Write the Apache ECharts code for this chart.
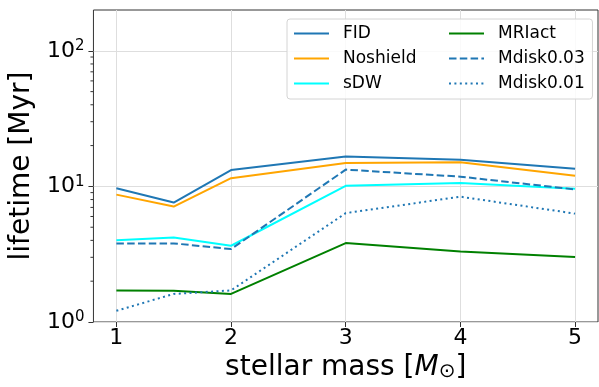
<!DOCTYPE html>
<html>
<head>
<meta charset="utf-8">
<script src="https://cdn.jsdelivr.net/npm/echarts@6/dist/echarts.min.js"></script>
<style>
  html, body { margin: 0; padding: 0; background: #fff; }
  #chart { width: 599px; height: 387px; }
</style>
</head>
<body>
<div id="chart"></div>
<script>
// Disk lifetime versus stellar mass for each model run
const masses   = [1, 1.5, 2, 3, 4, 5];
const fid      = [9.7, 7.6, 13.2, 16.6, 15.7, 13.5];
const noshield = [8.7, 7.1, 11.5, 14.9, 15.1, 12.0];
const sdw      = [4.0, 4.2, 3.65, 10.1, 10.6, 9.6];
const mriact   = [1.71, 1.70, 1.61, 3.82, 3.31, 3.02];
const mdisk003 = [3.8, 3.8, 3.45, 13.3, 11.8, 9.5];
const mdisk001 = [1.21, 1.61, 1.71, 6.35, 8.4, 6.3];

const xTicks = [1, 2, 3, 4, 5];
const yMajorTicks = [1, 10, 100];
const yMinorTicks = [2, 3, 4, 5, 6, 7, 8, 9, 20, 30, 40, 50, 60, 70, 80, 90];

const X_MIN = 0.8, X_MAX = 5.2;
const Y_MIN = 1, Y_MAX = 200;

const FONT = 'DejaVu Sans';
const SPINE = '#333333';
const GRID = '#dedede';

const pair = (ys) => masses.map((m, i) => [m, ys[i]]);

function lineSeries(name, ys, color, type) {
  return {
    name: name,
    type: 'line',
    data: pair(ys),
    symbol: 'none',
    showSymbol: false,
    lineStyle: { color: color, width: 2, type: type || 'solid', cap: 'butt' },
    itemStyle: { color: color },
    emphasis: { disabled: true },
    animation: false
  };
}

const chart = echarts.init(document.getElementById('chart'));

const legendText = { fontSize: 17, color: '#000', fontFamily: FONT, padding: [0, 0, 0, 9] };
// legend shows only the line sample, no marker
const legendItem = { color: 'transparent', borderColor: 'transparent', borderWidth: 0, opacity: 0 };

chart.setOption({
  backgroundColor: '#fff',
  animation: false,
  grid: {
    left: 91, top: 10, width: 507, height: 316,
    show: true, borderColor: SPINE, borderWidth: 1, backgroundColor: 'transparent'
  },
  legend: [
    {
      data: ['FID', 'Noshield', 'sDW'],
      orient: 'vertical',
      left: 287, top: 19,
      padding: [6, 176, 7, 6],
      itemWidth: 35, itemHeight: 14, itemGap: 8,
      backgroundColor: 'rgba(255,255,255,0.85)',
      borderColor: '#d4d4d4', borderWidth: 1, borderRadius: 3,
      selectedMode: false,
      itemStyle: legendItem,
      textStyle: legendText,
      z: 4
    },
    {
      data: ['MRIact', 'Mdisk0.03', 'Mdisk0.01'],
      orient: 'vertical',
      left: 448, top: 19,
      padding: [6, 0, 0, 0],
      itemWidth: 35, itemHeight: 14, itemGap: 8,
      selectedMode: false,
      itemStyle: legendItem,
      textStyle: legendText,
      z: 5
    }
  ],
  xAxis: {
    type: 'value',
    min: X_MIN, max: X_MAX,
    name: '{n|stellar mass [}{i|M}{s|⊙}{n|]}',
    nameLocation: 'middle',
    nameGap: 32,
    nameTextStyle: {
      rich: {
        n: { fontSize: 28, lineHeight: 28, fontFamily: FONT, color: '#000', verticalAlign: 'bottom' },
        i: { fontSize: 28, lineHeight: 28, fontFamily: FONT, fontStyle: 'italic', color: '#000', verticalAlign: 'bottom' },
        s: { fontSize: 20, lineHeight: 20, fontFamily: FONT, color: '#000', verticalAlign: 'bottom' }
      }
    },
    axisLine: { show: false },
    axisTick: { show: true, length: 5, customValues: xTicks, lineStyle: { color: SPINE, width: 1 } },
    axisLabel: {
      customValues: xTicks,
      margin: 5,
      fontSize: 22, fontFamily: FONT, color: '#000',
      formatter: (v) => String(v)
    },
    splitLine: { show: true, lineStyle: { color: GRID, width: 1 } }
  },
  yAxis: {
    type: 'log',
    logBase: 10,
    min: Y_MIN, max: Y_MAX,
    name: 'lifetime [Myr]',
    nameLocation: 'middle',
    nameRotate: 90,
    nameGap: 56,
    nameTextStyle: { fontSize: 28, fontFamily: FONT, color: '#000' },
    axisLine: { show: false },
    axisTick: { show: true, length: 5, customValues: yMajorTicks, lineStyle: { color: SPINE, width: 1 } },
    axisLabel: {
      customValues: yMajorTicks,
      margin: 9,
      formatter: (v) => {
        const e = Math.round(Math.log10(v));
        if (Math.abs(Math.pow(10, e) - v) > 1e-6) return '';
        return '{b|10}{s|' + e + '}';
      },
      rich: {
        b: { fontSize: 22, lineHeight: 22, fontFamily: FONT, color: '#000', verticalAlign: 'middle' },
        s: { fontSize: 15, lineHeight: 15, fontFamily: FONT, color: '#000', verticalAlign: 'middle', padding: [0, 0, 9, 0] }
      }
    },
    splitLine: { show: true, lineStyle: { color: GRID, width: 1 } }
  },
  series: [
    lineSeries('FID', fid, '#1f77b4'),
    lineSeries('Noshield', noshield, '#ffa500'),
    lineSeries('sDW', sdw, '#00ffff'),
    lineSeries('MRIact', mriact, '#008000'),
    lineSeries('Mdisk0.03', mdisk003, '#1f77b4', [7.5, 3.3]),
    lineSeries('Mdisk0.01', mdisk001, '#1f77b4', [2, 3.4]),
    {
      // minor ticks of the log axis, placed through the axis scale
      name: 'minor',
      type: 'custom',
      coordinateSystem: 'cartesian2d',
      data: yMinorTicks.map((v) => [X_MIN, v]),
      clip: false,
      silent: true,
      animation: false,
      renderItem: (params, api) => {
        const p = api.coord([api.value(0), api.value(1)]);
        return {
          type: 'line',
          shape: { x1: p[0] - 3, y1: p[1], x2: p[0], y2: p[1] },
          style: { stroke: SPINE, lineWidth: 1 }
        };
      }
    }
  ]
});
</script>
</body>
</html>
